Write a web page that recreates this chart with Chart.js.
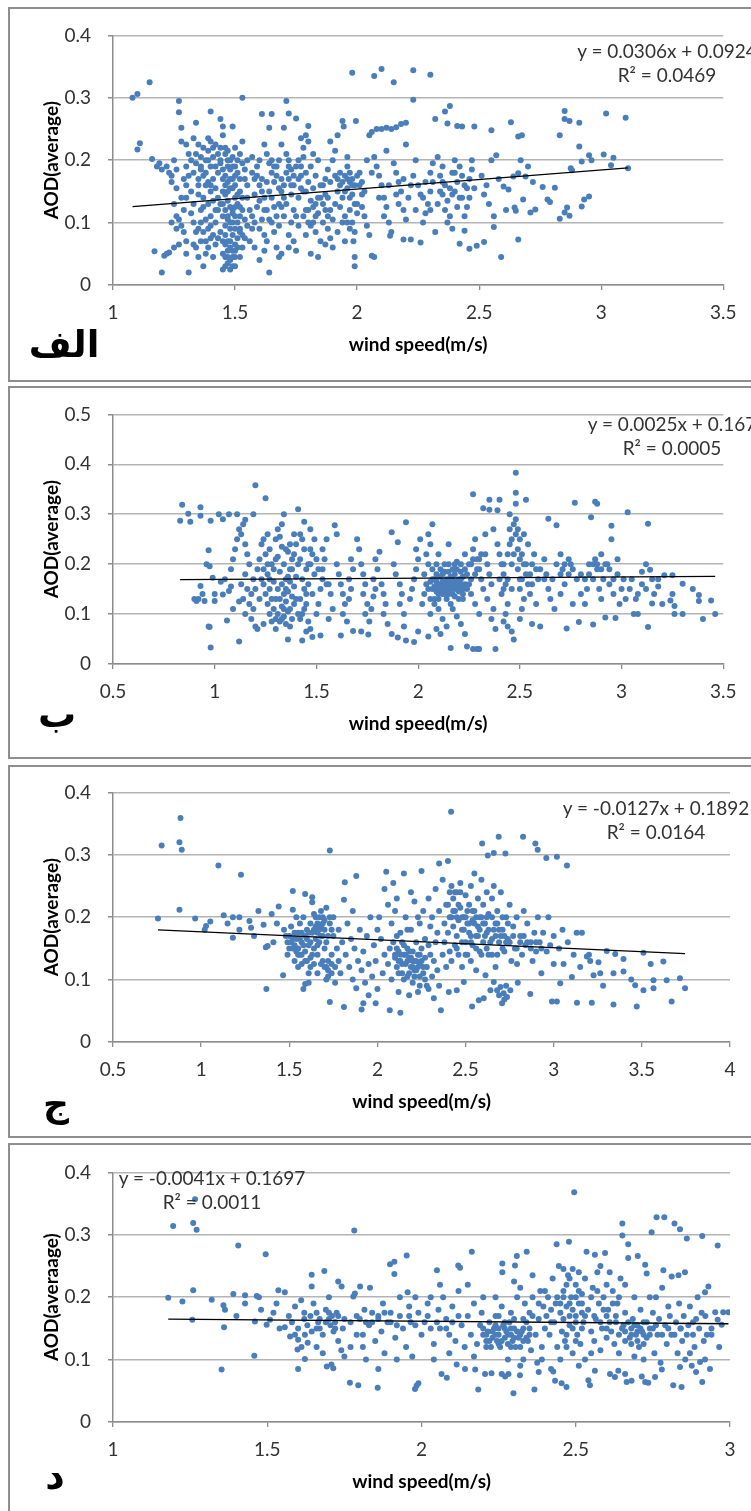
<!DOCTYPE html>
<html><head><meta charset="utf-8">
<script src="https://cdn.jsdelivr.net/npm/chart.js@4.4.1/dist/chart.umd.min.js"></script>
<style>
html,body{margin:0;padding:0;background:#fff;width:751px;height:1511px;overflow:hidden;position:relative;font-family:Lato,'Open Sans',sans-serif}
.box{position:absolute;left:8px;width:800px;border:2px solid #8e8e8e;box-sizing:border-box}
canvas{position:absolute;left:0;top:0}
.eq{position:absolute;font-family:Lato,'Open Sans',sans-serif;font-size:19px;color:#333;text-align:center;line-height:24px;white-space:nowrap;transform:translateX(-50%)}
.ar{position:absolute;font-family:'DejaVu Sans',sans-serif;font-weight:bold;color:#000;transform:translate(-50%,-50%);direction:rtl;white-space:nowrap;line-height:1}
</style></head><body>
<div class="box" style="top:7px;height:375px"></div>
<div class="box" style="top:386px;height:373px"></div>
<div class="box" style="top:765px;height:373px"></div>
<div class="box" style="top:1143px;height:400px"></div>
<canvas id="c0" width="751" height="372" style="top:7px"></canvas>
<canvas id="c1" width="751" height="372" style="top:386px"></canvas>
<canvas id="c2" width="751" height="372" style="top:764px"></canvas>
<canvas id="c3" width="751" height="372" style="top:1144px"></canvas>
<div class="eq" style="left:667px;top:39px">y = 0.0306x + 0.0924<br>R² = 0.0469</div>
<div class="eq" style="left:672px;top:412px">y = 0.0025x + 0.167<br>R² = 0.0005</div>
<div class="eq" style="left:656px;top:796px">y = -0.0127x + 0.1892<br>R² = 0.0164</div>
<div class="eq" style="left:212px;top:1166px">y = -0.0041x + 0.1697<br>R² = 0.0011</div>
<div class="ar" style="left:64px;top:344px;font-size:37px">الف</div>
<div class="ar" style="left:57px;top:714px;font-size:38px">ب</div>
<div class="ar" style="left:56px;top:1104px;font-size:36px">ج</div>
<div class="ar" style="left:55px;top:1476px;font-size:38px">د</div>
<script>
// wind speed (m/s) vs AOD(average), panels الف, ب, ج, د  — [wind speed, AOD]
const seriesA = [[1.08,.300],[1.10,.306],[1.15,.325],[1.10,.217],[1.11,.227],[1.16,.202],[1.17,.054],[1.21,.047],[1.22,.050],[1.23,.052],[1.20,.020],[1.19,.195],[1.18,.19],[1.2,.185],
[1.22,.19],[1.23,.18],[1.24,.175],[1.25,.20],[1.26,.185],[1.24,.165],[1.27,.295],[1.27,.277],[1.28,.252],[1.25,.13],[1.26,.11],[1.27,.105],[1.28,.095],[1.26,.09],[1.29,.12],[1.28,.14],[1.3,.16],[1.29,.17],[1.25,.06],[1.27,.065],[1.3,.07],[1.29,.085],[1.31,.02],[1.3,.19],[1.31,.21],[1.28,.23],[1.3,.225],[1.26,.155],[1.24,.10],[1.3,.05],
[1.32,.15],[1.33,.13],[1.34,.26],[1.32,.115],[1.33,.10],[1.34,.085],[1.35,.09],[1.33,.065],[1.35,.045],[1.37,.03],[1.38,.05],[1.36,.12],[1.37,.14],[1.38,.16],[1.35,.17],[1.36,.185],[1.38,.2],[1.39,.215],[1.37,.22],[1.4,.23],[1.4,.278],[1.39,.235],[1.36,.205],[1.34,.195],[1.33,.18],[1.35,.145],[1.38,.105],[1.39,.09],[1.4,.075],[1.4,.11],[1.39,.13],[1.4,.15],[1.41,.17],[1.4,.19],[1.41,.205],[1.42,.225],[1.36,.07],[1.34,.06],[1.39,.06],[1.41,.045],[1.37,.175],[1.35,.225],[1.33,.235],[1.39,.165],[1.42,.1],
[1.43,.12],[1.44,.13],[1.44,.266],[1.45,.254],[1.45,.24],[1.46,.22],[1.46,.21],[1.47,.2],[1.47,.19],[1.48,.185],[1.46,.175],[1.47,.165],[1.48,.155],[1.46,.145],[1.47,.135],[1.48,.125],[1.49,.115],[1.47,.105],[1.46,.095],[1.48,.09],[1.49,.08],[1.47,.07],[1.46,.065],[1.48,.06],[1.47,.055],[1.45,.05],[1.46,.045],[1.48,.04],[1.47,.035],[1.49,.03],[1.46,.03],[1.45,.025],[1.48,.025],[1.5,.03],[1.5,.045],[1.49,.055],[1.5,.065],[1.51,.075],[1.5,.09],[1.51,.1],[1.5,.11],[1.49,.12],[1.51,.13],[1.5,.14],[1.52,.15],[1.5,.16],[1.49,.17],[1.51,.18],[1.5,.19],[1.49,.205],[1.52,.21],[1.5,.22],[1.49,.254],[1.53,.30],[1.43,.18],[1.44,.195],[1.43,.21],[1.44,.22],[1.42,.155],[1.43,.14],[1.44,.085],[1.43,.075],[1.45,.11],[1.45,.15],[1.45,.17],[1.53,.195],[1.53,.12],[1.54,.105],[1.52,.085],[1.53,.06],[1.54,.17],[1.52,.09],[1.53,.23],[1.54,.185],[1.55,.14],[1.55,.095],[1.54,.075],[1.52,.045],[1.55,.2],[1.55,.16],
[1.56,.12],[1.57,.11],[1.58,.1],[1.57,.09],[1.58,.17],[1.59,.19],[1.6,.2],[1.57,.205],[1.59,.175],[1.6,.16],[1.61,.15],[1.6,.135],[1.62,.12],[1.61,.105],[1.6,.09],[1.62,.08],[1.63,.07],[1.6,.04],[1.61,.274],[1.65,.274],[1.64,.252],[1.64,.02],[1.62,.225],[1.63,.21],[1.64,.195],[1.65,.18],[1.66,.165],[1.64,.15],[1.65,.14],[1.66,.125],[1.67,.11],[1.65,.1],[1.66,.085],[1.67,.06],[1.68,.045],[1.69,.05],[1.67,.19],[1.68,.2],[1.69,.17],[1.68,.155],[1.7,.14],[1.69,.125],[1.7,.11],[1.68,.095],[1.7,.252],[1.69,.225],[1.58,.06],[1.56,.07],[1.63,.165],[1.62,.055],
[1.71,.295],[1.72,.275],[1.75,.267],[1.71,.21],[1.72,.2],[1.73,.185],[1.72,.17],[1.74,.16],[1.73,.145],[1.71,.13],[1.74,.12],[1.73,.1],[1.72,.08],[1.74,.07],[1.72,.06],[1.75,.055],[1.76,.14],[1.76,.17],[1.77,.19],[1.78,.22],[1.77,.235],[1.79,.24],[1.8,.23],[1.78,.205],[1.79,.18],[1.8,.165],[1.79,.15],[1.81,.135],[1.8,.12],[1.78,.11],[1.81,.095],[1.79,.08],[1.82,.21],[1.81,.19],[1.83,.175],[1.82,.155],[1.84,.14],[1.83,.13],[1.84,.115],[1.82,.1],[1.83,.085],[1.81,.05],[1.84,.045],[1.85,.07],[1.85,.16],[1.84,.2],[1.76,.095],[1.75,.11],[1.77,.155],[1.8,.255],
[1.86,.13],[1.87,.12],[1.88,.11],[1.87,.145],[1.86,.1],[1.88,.09],[1.89,.075],[1.87,.065],[1.9,.06],[1.89,.165],[1.88,.185],[1.9,.2],[1.91,.215],[1.89,.23],[1.92,.24],[1.91,.175],[1.93,.16],[1.92,.15],[1.94,.14],[1.93,.125],[1.95,.11],[1.94,.1],[1.92,.085],[1.95,.07],[1.94,.263],[1.945,.254],[1.96,.19],[1.95,.175],[1.97,.165],[1.96,.155],[1.98,.17],[1.97,.18],[1.99,.16],[1.98,.145],[1.99,.13],[1.97,.12],[2.0,.115],[1.98,.1],[1.99,.085],[1.985,.07],[1.99,.045],[1.99,.03],[1.995,.263],[1.98,.34],[1.96,.205],
[2.01,.18],[2.02,.165],[2.03,.15],[2.02,.125],[2.03,.11],[2.04,.095],[2.05,.08],[2.06,.047],[2.07,.045],[2.05,.24],[2.06,.245],[2.08,.25],[2.1,.25],[2.12,.252],[2.14,.25],[2.16,.253],[2.18,.258],[2.2,.26],[2.07,.335],[2.1,.346],[2.15,.325],[2.07,.205],[2.08,.19],[2.09,.175],[2.1,.16],[2.11,.14],[2.12,.125],[2.11,.11],[2.13,.1],[2.14,.085],[2.135,.079],[2.15,.195],[2.16,.18],[2.17,.165],[2.18,.15],[2.17,.13],[2.19,.12],[2.2,.105],[2.19,.073],[2.21,.14],[2.22,.16],[2.23,.175],[2.22,.073],[2.24,.12],[2.23,.297],[2.23,.344],[2.24,.2],[2.04,.2],[2.12,.215],[2.2,.225],
[2.26,.068],[2.27,.1],[2.28,.115],[2.29,.13],[2.26,.145],[2.28,.165],[2.3,.337],[2.32,.266],[2.36,.278],[2.38,.287],[2.37,.259],[2.41,.255],[2.43,.254],[2.3,.18],[2.31,.195],[2.33,.205],[2.35,.19],[2.34,.175],[2.36,.16],[2.35,.145],[2.37,.135],[2.36,.12],[2.38,.11],[2.37,.1],[2.39,.09],[2.4,.15],[2.41,.165],[2.39,.18],[2.42,.19],[2.4,.2],[2.43,.175],[2.44,.16],[2.42,.14],[2.45,.125],[2.44,.11],[2.42,.066],[2.44,.087],[2.46,.058],[2.49,.063],[2.46,.17],[2.47,.185],[2.48,.254],[2.48,.155],[2.32,.085],[2.3,.15],
[2.52,.069],[2.51,.175],[2.53,.16],[2.52,.145],[2.55,.248],[2.57,.208],[2.56,.11],[2.56,.093],[2.54,.13],[2.58,.17],[2.6,.158],[2.62,.153],[2.64,.174],[2.66,.179],[2.69,.174],[2.59,.045],[2.63,.261],[2.66,.238],[2.675,.24],[2.645,.124],[2.65,.119],[2.68,.137],[2.66,.073],[2.71,.116],[2.73,.121],[2.7,.19],[2.72,.165],[2.61,.12],[2.55,.2],[2.67,.2],
[2.76,.157],[2.81,.156],[2.78,.137],[2.79,.133],[2.83,.24],[2.85,.279],[2.85,.266],[2.87,.263],[2.91,.26],[2.83,.106],[2.85,.116],[2.86,.124],[2.87,.111],[2.88,.184],[2.875,.187],[2.92,.198],[2.91,.222],[2.95,.208],[2.96,.2],[2.95,.142],[2.93,.137],[2.92,.126],[3.02,.275],[3.01,.209],[3.05,.204],[3.04,.192],[3.11,.187],[3.1,.268],
[1.44,.2],[1.45,.185],[1.46,.16],[1.47,.15],[1.45,.13],[1.46,.12],[1.47,.11],[1.48,.1],[1.46,.08],[1.45,.07],[1.48,.07],[1.47,.045],[1.49,.045],[1.5,.055],[1.51,.06],[1.49,.1],[1.5,.125],[1.51,.145],[1.49,.155],[1.48,.17],[1.5,.175],[1.49,.19],[1.48,.2],[1.47,.215],[1.51,.2],[1.52,.17],[1.52,.125],[1.52,.11],[1.53,.14],[1.53,.08],
[1.38,.18],[1.39,.2],[1.41,.22],[1.42,.19],[1.4,.16],[1.41,.135],[1.42,.12],[1.4,.095],[1.41,.08],[1.42,.065],[1.38,.07],[1.37,.085],[1.36,.1],[1.37,.125],[1.35,.16],[1.36,.19],[1.34,.21],[1.32,.2],[1.31,.175],[1.3,.14],
[1.57,.18],[1.58,.145],[1.59,.125],[1.61,.17],[1.62,.14],[1.63,.12],[1.64,.105],[1.65,.2],[1.66,.19],[1.67,.175],[1.68,.13],[1.69,.15],[1.7,.16],[1.71,.18],[1.72,.19],[1.73,.16],[1.74,.175],[1.75,.19],[1.76,.2],[1.77,.175],[1.78,.15],[1.79,.12],[1.8,.1],[1.82,.125],[1.83,.11],[1.85,.14],[1.86,.16],[1.87,.17],[1.88,.14],[1.89,.12],[1.9,.105],[1.91,.13],[1.92,.17],[1.93,.18],[1.94,.165],[1.95,.15],[1.96,.17],[1.97,.14],[1.98,.16],[2.0,.175],[2.01,.16],[2.02,.145],[2.0,.13],[1.96,.1],[1.97,.09],
[2.06,.18],[2.09,.14],[2.13,.16],[2.16,.145],[2.19,.17],[2.25,.16],[2.27,.14],[2.3,.12],[2.33,.13],[2.35,.165],[2.38,.155],[2.39,.145],[2.41,.125],[2.43,.14],[2.45,.155],[2.46,.14],[2.47,.2],[2.4,.18],[2.34,.15],[2.31,.165]];

const seriesB = [[0.84,.319],[0.83,.287],[0.87,.301],[0.88,.285],[0.93,.314],[0.93,.297],[0.98,.287],[0.97,.228],[0.975,.196],[0.93,.156],[0.91,.126],[0.95,.126],[0.975,.074],[0.98,.033],[0.97,.075],[0.92,.13],[0.99,.173],[0.96,.20],[0.94,.14],[0.9,.13],
[1.0,.14],[1.0,.126],[1.02,.30],[1.04,.29],[1.07,.30],[1.11,.30],[1.15,.289],[1.19,.30],[1.06,.087],[1.04,.139],[1.07,.146],[1.12,.045],[1.05,.17],[1.08,.19],[1.09,.21],[1.1,.23],[1.11,.25],[1.12,.27],[1.14,.28],[1.13,.26],[1.15,.24],[1.16,.22],[1.17,.2],[1.15,.18],[1.13,.16],[1.16,.15],[1.18,.14],[1.14,.13],[1.17,.12],[1.19,.11],[1.15,.1],[1.18,.09],[1.2,.075],[1.21,.07],[1.09,.11],[1.12,.125],[1.03,.165],[1.08,.155],[1.19,.17],[1.2,.358],
[1.21,.19],[1.22,.21],[1.23,.24],[1.25,.332],[1.24,.25],[1.26,.26],[1.27,.23],[1.25,.22],[1.28,.2],[1.26,.18],[1.24,.16],[1.27,.15],[1.25,.14],[1.28,.13],[1.26,.12],[1.29,.11],[1.27,.1],[1.3,.09],[1.28,.085],[1.24,.08],[1.3,.25],[1.31,.27],[1.33,.28],[1.34,.3],[1.32,.255],[1.33,.235],[1.31,.215],[1.34,.2],[1.32,.185],[1.35,.17],[1.33,.16],[1.31,.15],[1.34,.14],[1.32,.13],[1.35,.125],[1.33,.115],[1.36,.105],[1.34,.095],[1.32,.085],[1.35,.08],[1.37,.075],[1.36,.049],[1.38,.09],[1.37,.11],[1.39,.12],[1.38,.135],[1.36,.145],[1.39,.155],[1.37,.165],[1.4,.175],[1.38,.19],[1.41,.2],[1.39,.22],[1.4,.24],[1.41,.31],[1.42,.26],[1.43,.25],[1.44,.23],[1.42,.21],[1.45,.19],[1.43,.17],[1.46,.16],[1.44,.15],[1.42,.13],[1.45,.12],[1.43,.1],[1.46,.085],[1.43,.047],[1.47,.07],[1.48,.054],[1.45,.065],[1.47,.2],[1.48,.22],[1.49,.18],[1.47,.27],[1.48,.14],[1.3,.07],[1.29,.165],[1.36,.225],[1.44,.285],
[1.52,.057],[1.5,.1],[1.51,.12],[1.52,.15],[1.53,.17],[1.51,.19],[1.54,.21],[1.53,.23],[1.55,.25],[1.56,.16],[1.57,.14],[1.58,.11],[1.56,.09],[1.59,.278],[1.6,.26],[1.61,.18],[1.6,.2],[1.62,.057],[1.62,.16],[1.63,.14],[1.64,.12],[1.63,.1],[1.65,.085],[1.66,.13],[1.67,.15],[1.66,.17],[1.68,.19],[1.67,.21],[1.68,.066],[1.7,.25],[1.71,.23],[1.72,.065],[1.72,.2],[1.73,.18],[1.74,.16],[1.73,.14],[1.75,.12],[1.74,.1],[1.755,.059],[1.76,.085],[1.77,.11],[1.78,.135],[1.79,.15],[1.78,.17],[1.8,.19],[1.79,.21],[1.81,.225],[1.82,.16],[1.83,.14],[1.84,.12],[1.83,.1],[1.85,.08],[1.87,.264],[1.87,.06],[1.88,.2],[1.9,.244],[1.89,.18],[1.9,.053],[1.91,.16],[1.92,.14],[1.91,.12],[1.93,.1],[1.94,.284],[1.94,.047],[1.93,.075],
[1.98,.044],[1.96,.13],[1.97,.15],[1.98,.17],[1.99,.19],[2.0,.21],[1.99,.23],[2.01,.25],[2.02,.12],[2.03,.14],[2.04,.16],[2.03,.18],[2.05,.2],[2.04,.22],[2.06,.24],[2.05,.26],[2.07,.28],[2.06,.1],[2.08,.13],[2.07,.15],[2.09,.165],[2.08,.17],[2.1,.155],[2.09,.145],[2.11,.16],[2.1,.175],[2.12,.165],[2.11,.15],[2.13,.14],[2.12,.18],[2.14,.17],[2.13,.155],[2.15,.16],[2.14,.145],[2.16,.175],[2.15,.185],[2.17,.16],[2.16,.15],[2.18,.165],[2.17,.14],[2.19,.155],[2.18,.18],[2.2,.17],[2.19,.19],[2.21,.16],[2.2,.145],[2.22,.175],[2.21,.2],[2.23,.22],[2.22,.13],[2.1,.11],[2.12,.09],[2.14,.075],[2.16,.032],[2.11,.06],[2.09,.07],[2.17,.11],[2.19,.095],[2.21,.08],[2.23,.06],[2.24,.035],[2.24,.18],[2.25,.16],[2.26,.2],[2.27,.34],[2.27,.23],[2.26,.14],[2.28,.12],[2.27,.03],[2.29,.03],[2.28,.25],[2.3,.03],[2.3,.21],[2.29,.19],[2.1,.22],[2.15,.24],[2.05,.055],[2.0,.065],[2.13,.2],[2.18,.2],
[2.32,.312],[2.35,.309],[2.39,.308],[2.35,.329],[2.4,.329],[2.31,.17],[2.32,.15],[2.33,.22],[2.34,.2],[2.35,.18],[2.36,.16],[2.34,.13],[2.37,.11],[2.36,.09],[2.38,.03],[2.38,.07],[2.39,.24],[2.4,.22],[2.41,.2],[2.42,.18],[2.43,.16],[2.41,.14],[2.44,.12],[2.43,.1],[2.45,.27],[2.46,.25],[2.47,.28],[2.48,.29],[2.48,.343],[2.48,.321],[2.48,.383],[2.47,.049],[2.49,.23],[2.5,.21],[2.49,.19],[2.51,.17],[2.5,.15],[2.52,.13],[2.51,.11],[2.5,.09],[2.53,.329],[2.52,.26],[2.54,.24],[2.53,.2],[2.55,.18],[2.56,.16],[2.55,.14],[2.56,.08],[2.57,.22],[2.58,.19],[2.59,.17],[2.58,.12],[2.6,.075],[2.44,.075],[2.46,.065],[2.42,.085],[2.3,.1],[2.33,.26],[2.37,.27],[2.45,.3],
[2.64,.291],[2.68,.278],[2.62,.21],[2.63,.18],[2.64,.15],[2.65,.13],[2.66,.17],[2.68,.2],[2.7,.22],[2.71,.19],[2.72,.16],[2.73,.071],[2.74,.18],[2.75,.2],[2.77,.323],[2.78,.17],[2.79,.084],[2.8,.14],[2.82,.12],[2.84,.2],[2.85,.294],[2.86,.079],[2.87,.325],[2.88,.321],[2.87,.21],[2.88,.19],[2.86,.17],[2.89,.15],[2.9,.13],[2.91,.17],[2.92,.093],[2.93,.2],[2.95,.277],[2.95,.25],[2.94,.16],[2.96,.14],[2.97,.092],[2.98,.18],[2.99,.12],[2.67,.11],[2.7,.14],[2.76,.12],[2.83,.15],[2.9,.22],[2.98,.21],
[3.03,.304],[3.06,.1],[3.08,.1],[3.01,.17],[3.04,.15],[3.07,.13],[3.1,.16],[3.12,.2],[3.13,.281],[3.13,.074],[3.15,.121],[3.14,.189],[3.16,.14],[3.18,.17],[3.21,.178],[3.25,.178],[3.25,.14],[3.24,.127],[3.26,.116],[3.26,.1],[3.3,.1],[3.3,.161],[3.38,.138],[3.38,.126],[3.4,.09],[3.44,.127],[3.46,.1],[3.2,.12],[3.35,.15],[3.1,.185],
[2.05,.15],[2.06,.165],[2.07,.17],[2.08,.155],[2.09,.18],[2.1,.14],[2.11,.175],[2.12,.15],[2.13,.165],[2.14,.155],[2.15,.14],[2.16,.165],[2.17,.17],[2.18,.15],[2.19,.165],[2.2,.155],[2.21,.17],[2.22,.15],[2.23,.16],[2.24,.15],[2.06,.13],[2.08,.12],[2.1,.13],[2.12,.14],[2.14,.13],[2.16,.12],[2.18,.135],[2.2,.13],[2.22,.14],[2.07,.19],[2.09,.2],[2.11,.19],[2.13,.185],[2.15,.2],[2.17,.19],[2.19,.205],[2.21,.185],[2.23,.19],[2.25,.2],[2.26,.17],[2.28,.18],[2.3,.19],[2.31,.22],[2.29,.21],[2.27,.21],
[1.2,.15],[1.22,.13],[1.23,.17],[1.24,.19],[1.26,.2],[1.27,.17],[1.29,.19],[1.3,.21],[1.3,.13],[1.31,.1],[1.33,.09],[1.34,.11],[1.35,.15],[1.36,.175],[1.37,.19],[1.38,.21],[1.35,.23],[1.37,.24],[1.39,.26],[1.4,.13],[1.41,.1],[1.42,.09],[1.44,.11],[1.45,.14],[1.46,.2],[1.47,.23],[1.49,.25],[1.5,.21],[1.53,.19],[1.55,.16],
[2.4,.17],[2.42,.2],[2.44,.22],[2.45,.24],[2.46,.2],[2.47,.22],[2.48,.26],[2.49,.27],[2.5,.25],[2.51,.22],[2.52,.2],[2.53,.18],[2.54,.16],[2.46,.15],[2.44,.17],[2.42,.15],[2.5,.17],[2.56,.2],[2.6,.19],[2.62,.17],
[2.7,.18],[2.72,.2],[2.74,.21],[2.76,.19],[2.8,.18],[2.82,.17],[2.84,.18],[2.86,.2],[2.88,.2],[2.9,.19],[2.92,.2],[2.94,.19],[2.96,.17],[3.0,.15],[3.02,.13],[3.05,.17],[3.08,.14],[3.12,.15],[3.15,.17],[3.18,.155]];

const seriesC = [[0.755,.198],[0.776,.315],[0.883,.359],[0.877,.32],[0.89,.308],[0.877,.212],[0.966,.198],[1.028,.186],[1.052,.193],[1.098,.283],[1.226,.268],[1.128,.203],[1.18,.2],[1.217,.2],[1.18,.167],[1.217,.18],[1.274,.194],[1.283,.183],[1.325,.21],[1.354,.188],[1.367,.152],[1.377,.154],[1.4,.205],[1.37,.085],[1.44,.217],[1.3,.17],[1.02,.18],[1.15,.19],[1.41,.16],[1.43,.19],
[1.465,.107],[1.47,.18],[1.48,.17],[1.49,.16],[1.5,.15],[1.49,.14],[1.51,.185],[1.52,.242],[1.52,.212],[1.52,.165],[1.53,.155],[1.54,.145],[1.53,.13],[1.55,.175],[1.55,.12],[1.56,.19],[1.57,.16],[1.56,.14],[1.58,.085],[1.59,.093],[1.59,.237],[1.58,.2],[1.6,.18],[1.59,.17],[1.61,.155],[1.6,.13],[1.62,.12],[1.61,.11],[1.63,.232],[1.63,.224],[1.62,.19],[1.64,.205],[1.63,.175],[1.65,.165],[1.64,.15],[1.66,.14],[1.65,.185],[1.67,.2],[1.66,.175],[1.68,.21],[1.67,.16],[1.69,.19],[1.68,.17],[1.7,.18],[1.69,.2],[1.71,.215],[1.7,.15],[1.72,.13],[1.71,.12],[1.73,.307],[1.73,.064],[1.72,.105],[1.74,.11],[1.73,.19],[1.75,.17],[1.74,.14],[1.76,.12],[1.75,.2],[1.77,.15],[1.78,.13],[1.76,.095],[1.79,.11],[1.78,.18],[1.8,.16],[1.57,.125],[1.54,.2],[1.61,.095],[1.66,.11],[1.69,.13],[1.71,.1],
[1.81,.056],[1.815,.256],[1.81,.228],[1.82,.14],[1.83,.19],[1.84,.12],[1.85,.165],[1.86,.1],[1.87,.15],[1.88,.266],[1.88,.086],[1.89,.13],[1.9,.18],[1.91,.052],[1.92,.062],[1.91,.115],[1.92,.145],[1.93,.095],[1.94,.17],[1.95,.125],[1.96,.2],[1.97,.105],[1.98,.155],[1.99,.062],[1.99,.13],[2.0,.085],[2.01,.2],[2.02,.165],[2.03,.11],[2.04,.245],[2.04,.14],[2.05,.273],[1.86,.21],[1.95,.075],[2.0,.18],
[2.06,.22],[2.07,.051],[2.06,.125],[2.07,.15],[2.08,.19],[2.09,.255],[2.08,.1],[2.1,.135],[2.1,.21],[2.11,.12],[2.11,.17],[2.12,.145],[2.12,.08],[2.13,.047],[2.13,.13],[2.14,.11],[2.14,.16],[2.15,.27],[2.15,.14],[2.16,.125],[2.16,.2],[2.17,.15],[2.17,.105],[2.18,.135],[2.18,.075],[2.19,.12],[2.19,.18],[2.2,.145],[2.2,.095],[2.21,.13],[2.21,.225],[2.22,.115],[2.22,.16],[2.23,.14],[2.23,.08],[2.24,.125],[2.24,.19],[2.25,.274],[2.25,.15],[2.26,.11],[2.26,.21],[2.27,.135],[2.27,.165],[2.28,.12],[2.28,.09],[2.29,.155],[2.29,.23],[2.3,.14],[2.3,.185],[2.31,.105],[2.31,.2],[2.32,.13],[2.32,.07],[2.33,.16],[2.33,.245],[2.34,.115],[2.34,.175],[2.35,.286],[2.35,.21],[2.35,.09],[2.09,.16],[2.13,.175],[2.17,.18],[2.2,.12],[2.24,.105],[2.27,.1],[2.11,.23],[2.19,.24],[2.23,.2],[2.29,.085],
[2.36,.051],[2.37,.14],[2.37,.26],[2.38,.19],[2.38,.16],[2.39,.22],[2.39,.12],[2.4,.29],[2.4,.175],[2.405,.08],[2.41,.2],[2.41,.145],[2.418,.369],[2.42,.25],[2.42,.13],[2.43,.23],[2.43,.185],[2.44,.21],[2.44,.155],[2.45,.24],[2.45,.17],[2.45,.083],[2.46,.195],[2.46,.14],[2.47,.255],[2.47,.215],[2.48,.18],[2.48,.12],[2.49,.096],[2.49,.2],[2.5,.235],[2.5,.16],[2.51,.19],[2.51,.14],[2.52,.22],[2.52,.175],[2.53,.25],[2.53,.13],[2.54,.195],[2.54,.155],[2.537,.057],[2.55,.27],[2.55,.21],[2.56,.17],[2.56,.115],[2.57,.23],[2.57,.185],[2.575,.067],[2.58,.2],[2.58,.145],[2.59,.26],[2.594,.318],[2.6,.22],[2.6,.16],[2.603,.07],[2.61,.19],[2.613,.107],[2.62,.24],[2.62,.175],[2.626,.299],[2.63,.205],[2.63,.14],[2.641,.083],[2.65,.23],[2.65,.165],[2.66,.303],[2.66,.096],[2.66,.25],[2.67,.19],[2.67,.12],[2.679,.083],[2.68,.21],[2.688,.329],[2.69,.16],[2.698,.088],[2.7,.24],[2.707,.062],[2.71,.18],[2.716,.078],[2.72,.145],[2.726,.302],[2.73,.2],[2.735,.072],[2.74,.165],[2.754,.083],[2.75,.22],[2.76,.13],[2.77,.185],[2.78,.15],[2.79,.2],[2.792,.125],[2.796,.095],[2.72,.068],[2.69,.075],[2.73,.09],
[2.81,.17],[2.82,.14],[2.826,.329],[2.83,.21],[2.84,.155],[2.85,.19],[2.867,.077],[2.87,.16],[2.88,.13],[2.89,.175],[2.896,.318],[2.9,.145],[2.909,.308],[2.91,.2],[2.92,.16],[2.93,.11],[2.94,.175],[2.958,.295],[2.96,.145],[2.97,.2],[2.98,.155],[2.99,.065],[3.0,.125],[3.0,.17],[3.018,.297],[3.018,.065],[3.03,.15],[3.037,.094],[3.05,.18],[3.056,.125],[3.075,.283],[3.08,.16],[3.103,.104],[3.113,.14],[3.13,.175],
[3.132,.063],[3.15,.12],[3.188,.137],[3.207,.13],[3.216,.063],[3.226,.107],[3.254,.128],[3.264,.11],[3.301,.146],[3.339,.11],[3.339,.06],[3.349,.141],[3.396,.133],[3.396,.113],[3.462,.091],[3.471,.057],[3.509,.143],[3.509,.083],[3.566,.086],[3.566,.099],[3.622,.129],[3.641,.099],[3.669,.065],[3.716,.102],[3.745,.086],[3.16,.175],[3.2,.14],[3.28,.09],[3.44,.1],[3.55,.125],
[1.5,.17],[1.51,.16],[1.52,.15],[1.53,.175],[1.54,.165],[1.55,.15],[1.56,.165],[1.57,.175],[1.58,.155],[1.59,.145],[1.6,.165],[1.61,.175],[1.62,.16],[1.63,.14],[1.64,.18],[1.65,.2],[1.66,.19],[1.67,.18],[1.68,.185],[1.69,.17],[1.7,.195],[1.71,.16],[1.72,.17],[1.73,.2],[1.74,.18],[1.55,.14],[1.57,.14],[1.59,.13],[1.62,.135],[1.64,.125],[1.66,.155],[1.68,.125],[1.7,.12],[1.72,.115],[1.74,.125],
[2.1,.14],[2.11,.15],[2.12,.13],[2.13,.14],[2.14,.125],[2.15,.155],[2.16,.14],[2.17,.13],[2.18,.145],[2.19,.135],[2.2,.13],[2.21,.115],[2.22,.13],[2.23,.12],[2.24,.14],[2.25,.13],[2.26,.12],[2.12,.11],[2.15,.1],[2.18,.11],[2.21,.105],[2.24,.09],
[2.4,.22],[2.41,.24],[2.42,.2],[2.43,.21],[2.44,.24],[2.45,.2],[2.46,.22],[2.47,.24],[2.48,.2],[2.49,.18],[2.5,.2],[2.51,.21],[2.52,.19],[2.53,.17],[2.54,.21],[2.55,.19],[2.56,.2],[2.57,.17],[2.58,.18],[2.59,.2],[2.6,.19],[2.61,.17],[2.62,.2],[2.63,.18],[2.64,.16],[2.65,.2],[2.66,.18],[2.67,.17],[2.68,.19],[2.69,.18],[2.7,.17],[2.71,.2],[2.72,.17],[2.73,.16],[2.74,.19],[2.45,.15],[2.48,.16],[2.5,.14],[2.53,.16],[2.56,.15],[2.59,.14],[2.62,.15],[2.65,.14],[2.68,.14],[2.71,.15],[2.75,.16],[2.77,.17],[2.79,.15],[2.81,.16],[2.83,.17],[2.85,.16],[2.87,.15],[2.9,.16],[2.93,.15]];

const seriesD = [[1.179,.199],[1.195,.314],[1.225,.193],[1.257,.164],[1.26,.211],[1.26,.319],[1.271,.308],[1.266,.357],[1.32,.196],[1.358,.187],[1.363,.18],[1.36,.152],[1.352,.084],[1.406,.283],[1.39,.205],[1.428,.203],[1.428,.19],[1.466,.202],[1.473,.2],[1.46,.161],[1.458,.106],[1.495,.269],[1.498,.156],[1.509,.164],[1.536,.211],[1.52,.175],[1.54,.15],[1.48,.18],[1.4,.17],[1.53,.19],
[1.557,.208],[1.557,.152],[1.574,.137],[1.6,.132],[1.622,.14],[1.644,.145],[1.631,.127],[1.611,.12],[1.598,.116],[1.622,.101],[1.6,.085],[1.57,.17],[1.58,.16],[1.59,.185],[1.61,.195],[1.62,.165],[1.63,.155],[1.644,.236],[1.644,.217],[1.65,.19],[1.66,.175],[1.665,.16],[1.67,.15],[1.68,.14],[1.685,.242],[1.69,.18],[1.693,.089],[1.7,.165],[1.705,.155],[1.708,.092],[1.71,.17],[1.714,.086],[1.715,.145],[1.72,.16],[1.725,.175],[1.73,.225],[1.73,.13],[1.74,.115],[1.741,.217],[1.745,.15],[1.75,.105],[1.66,.12],[1.68,.11],[1.7,.2],[1.59,.14],
[1.768,.063],[1.779,.201],[1.782,.307],[1.784,.206],[1.79,.14],[1.795,.059],[1.8,.165],[1.801,.217],[1.81,.12],[1.815,.18],[1.82,.1],[1.83,.155],[1.833,.215],[1.84,.175],[1.85,.13],[1.858,.055],[1.86,.165],[1.87,.145],[1.875,.19],[1.88,.11],[1.89,.16],[1.898,.253],[1.9,.175],[1.912,.257],[1.912,.237],[1.915,.135],[1.92,.1],[1.93,.17],[1.94,.15],[1.95,.12],[1.952,.267],[1.955,.208],[1.96,.185],[1.965,.16],[1.97,.105],[1.979,.053],[1.984,.058],[1.99,.175],[1.99,.062],[2.0,.14],[1.77,.12],[1.81,.14],[1.86,.085],[1.93,.2],[1.98,.2],
[2.01,.16],[2.02,.19],[2.03,.2],[2.04,.125],[2.05,.243],[2.055,.18],[2.06,.15],[2.065,.077],[2.07,.2],[2.08,.165],[2.082,.071],[2.09,.14],[2.1,.185],[2.11,.13],[2.114,.092],[2.119,.251],[2.125,.247],[2.13,.155],[2.14,.12],[2.141,.085],[2.15,.17],[2.16,.14],[2.163,.273],[2.17,.19],[2.174,.084],[2.18,.125],[2.184,.052],[2.19,.155],[2.2,.14],[2.2,.2],[2.206,.077],[2.21,.13],[2.04,.1],[2.09,.11],[2.12,.21],[2.17,.105],[2.03,.15],[2.195,.175],[2.15,.22],[2.06,.22],
[2.215,.145],[2.22,.16],[2.225,.12],[2.227,.078],[2.23,.135],[2.235,.15],[2.24,.17],[2.245,.13],[2.25,.14],[2.255,.12],[2.26,.077],[2.262,.254],[2.262,.24],[2.265,.155],[2.27,.135],[2.271,.073],[2.275,.145],[2.28,.125],[2.282,.077],[2.285,.16],[2.29,.14],[2.295,.13],[2.298,.046],[2.3,.15],[2.303,.251],[2.305,.12],[2.309,.266],[2.31,.2],[2.315,.135],[2.319,.075],[2.32,.215],[2.325,.145],[2.33,.1],[2.335,.19],[2.34,.16],[2.341,.273],[2.345,.13],[2.35,.175],[2.355,.115],[2.36,.2],[2.366,.052],[2.37,.14],[2.375,.095],[2.38,.165],[2.385,.21],[2.39,.12],[2.395,.185],[2.4,.15],[2.24,.2],[2.26,.185],[2.28,.1],[2.3,.225],[2.32,.09],[2.36,.235],[2.38,.08],[2.25,.17],[2.29,.175],[2.33,.165],[2.35,.15],[2.39,.1],
[2.405,.17],[2.41,.2],[2.415,.14],[2.42,.085],[2.425,.23],[2.427,.081],[2.43,.16],[2.433,.066],[2.435,.19],[2.438,.285],[2.44,.12],[2.445,.25],[2.45,.175],[2.454,.062],[2.455,.145],[2.46,.21],[2.465,.13],[2.47,.056],[2.47,.185],[2.475,.235],[2.478,.289],[2.48,.155],[2.485,.2],[2.49,.11],[2.495,.368],[2.5,.17],[2.5,.22],[2.505,.14],[2.51,.19],[2.515,.125],[2.52,.205],[2.525,.16],[2.53,.1],[2.535,.273],[2.54,.18],[2.541,.067],[2.546,.059],[2.55,.145],[2.555,.215],[2.56,.13],[2.562,.268],[2.562,.082],[2.565,.165],[2.57,.24],[2.575,.19],[2.58,.115],[2.585,.15],[2.59,.2],[2.595,.271],[2.6,.17],[2.6,.135],[2.45,.1],[2.49,.245],[2.51,.09],[2.53,.23],[2.42,.16],[2.47,.12],[2.55,.11],[2.58,.25],[2.52,.175],
[2.605,.18],[2.611,.077],[2.615,.145],[2.62,.21],[2.625,.125],[2.627,.072],[2.63,.16],[2.635,.19],[2.638,.082],[2.64,.14],[2.645,.23],[2.651,.318],[2.651,.299],[2.655,.155],[2.66,.077],[2.66,.175],[2.665,.064],[2.67,.285],[2.67,.263],[2.675,.135],[2.68,.15],[2.681,.066],[2.685,.165],[2.69,.2],[2.695,.14],[2.7,.155],[2.701,.266],[2.705,.12],[2.71,.18],[2.714,.073],[2.715,.145],[2.72,.16],[2.725,.252],[2.725,.064],[2.73,.238],[2.73,.135],[2.735,.063],[2.74,.15],[2.746,.304],[2.75,.175],[2.755,.11],[2.757,.072],[2.76,.2],[2.762,.328],[2.765,.14],[2.77,.165],[2.775,.095],[2.779,.084],[2.78,.215],[2.784,.243],[2.787,.328],[2.79,.155],[2.795,.125],[2.8,.185],[2.69,.105],[2.72,.1],[2.66,.22],[2.74,.2],[2.61,.24],[2.64,.11],
[2.805,.17],[2.81,.14],[2.811,.233],[2.816,.059],[2.82,.318],[2.825,.16],[2.83,.11],[2.833,.235],[2.835,.19],[2.838,.309],[2.838,.088],[2.84,.15],[2.843,.056],[2.845,.13],[2.85,.17],[2.854,.24],[2.855,.1],[2.86,.294],[2.865,.155],[2.87,.185],[2.876,.09],[2.88,.14],[2.885,.12],[2.89,.165],[2.895,.2],[2.903,.096],[2.908,.175],[2.91,.298],[2.91,.064],[2.915,.13],[2.919,.208],[2.919,.1],[2.93,.217],[2.935,.085],[2.94,.15],[2.952,.176],[2.96,.283],[2.96,.164],[2.965,.12],[2.973,.156],[2.978,.176],[2.995,.176],[2.87,.11],[2.89,.08],[2.925,.14],
[2.2,.15],[2.21,.14],[2.22,.13],[2.23,.145],[2.24,.14],[2.25,.15],[2.26,.13],[2.27,.15],[2.28,.14],[2.29,.15],[2.3,.135],[2.31,.145],[2.32,.14],[2.33,.15],[2.34,.135],[2.35,.14],[2.24,.155],[2.27,.16],[2.3,.165],[2.33,.13],[2.21,.12],[2.25,.125],[2.29,.12],[2.32,.12],
[2.45,.19],[2.46,.2],[2.47,.22],[2.48,.19],[2.49,.18],[2.5,.2],[2.51,.21],[2.52,.19],[2.48,.17],[2.5,.16],[2.46,.165],[2.52,.15],[2.47,.14],[2.5,.13],[2.49,.15],[2.44,.2],[2.53,.17],[2.51,.24],[2.48,.23],[2.46,.245],
[2.65,.15],[2.66,.145],[2.67,.16],[2.68,.14],[2.69,.155],[2.7,.145],[2.71,.15],[2.72,.14],[2.73,.16],[2.74,.14],[2.7,.13],[2.68,.125],[2.72,.125],[2.66,.13],[2.75,.15],[2.76,.155],[2.78,.14],[2.8,.15],[2.82,.14],[2.84,.15],[2.86,.14],[2.88,.16],[2.9,.15],[2.92,.17],[2.94,.14],
[1.6,.15],[1.62,.175],[1.64,.17],[1.66,.15],[1.67,.165],[1.69,.16],[1.7,.175],[1.72,.15],[1.73,.17],[1.75,.165],[1.77,.16],[1.79,.17],[1.82,.16],[1.84,.16],[1.86,.17],[1.88,.175],[1.9,.16],[1.92,.155],[1.96,.17],[1.98,.155],[2.02,.17],[2.05,.16],[2.08,.15],[2.1,.16],[2.12,.17],
[2.36,.17],[2.38,.19],[2.4,.21],[2.42,.18],[2.55,.2],[2.57,.21],[2.59,.18],[2.6,.22],[2.62,.19],[2.64,.2],[2.56,.17],[2.58,.16],[2.61,.16],[2.63,.17],[2.6,.15]];

// axis ticks
const xTicksA = [1, 1.5, 2, 2.5, 3, 3.5];
const xTicksB = [0.5, 1, 1.5, 2, 2.5, 3, 3.5];
const xTicksC = [0.5, 1, 1.5, 2, 2.5, 3, 3.5, 4];
const xTicksD = [1, 1.5, 2, 2.5, 3];
const yTicksA = [0, 0.1, 0.2, 0.3, 0.4];
const yTicksB = [0, 0.1, 0.2, 0.3, 0.4, 0.5];
const yTicksC = [0, 0.1, 0.2, 0.3, 0.4];
const yTicksD = [0, 0.1, 0.2, 0.3, 0.4];

// linear trendlines (slope, intercept) as printed on each panel
const slopes = [0.0306, 0.0025, -0.0127, -0.0041];
const intercepts = [0.0924, 0.167, 0.1892, 0.1697];

const yTitles = ['AOD(average)', 'AOD(average)', 'AOD(average)', 'AOD(averaage)'];
const xTitle = 'wind speed(m/s)';

const FONT = "Lato, 'Open Sans', sans-serif";
const rightPads = [27.7, 27.7, 21, 21];

function makeChart(k, pts, xt, yt) {
  const xs = pts.map(p => p[0]);
  const x0 = Math.min(...xs), x1 = Math.max(...xs);
  new Chart(document.getElementById('c' + k), {
    type: 'scatter',
    data: {
      datasets: [
        {
          data: [{x: x0, y: slopes[k] * x0 + intercepts[k]}, {x: x1, y: slopes[k] * x1 + intercepts[k]}],
          showLine: true, pointRadius: 0, borderColor: '#000', borderWidth: 1.3, order: 0
        },
        {
          data: pts.map(p => ({x: p[0], y: p[1]})),
          backgroundColor: '#4a7ebb', borderColor: '#4a7ebb', borderWidth: 0, pointRadius: 3.0, order: 1
        }
      ]
    },
    options: {
      responsive: false, animation: false, devicePixelRatio: 1, events: [],
      layout: {padding: {left: 40.6, top: 25, right: rightPads[k], bottom: 22.6}},
      plugins: {legend: {display: false}, tooltip: {enabled: false}},
      scales: {
        x: {
          type: 'linear', min: xt[0], max: xt[xt.length - 1],
          afterFit: s => { s.height = 71.4; },
          ticks: {stepSize: 0.5, autoSkip: false, maxRotation: 0, padding: 11, color: '#333',
                  font: {family: FONT, size: 19}, callback: (v, i) => String(xt[i])},
          grid: {drawOnChartArea: false, drawTicks: true, tickLength: 5, color: '#8c8c8c', lineWidth: 1.3},
          border: {display: true, color: '#8c8c8c', width: 1.5},
          title: {display: true, text: xTitle, color: '#000', padding: 0,
                  font: {family: FONT, size: 19, weight: 'bold'}}
        },
        y: {
          type: 'linear', min: yt[0], max: yt[yt.length - 1],
          afterFit: s => { s.width = 72.4; },
          ticks: {stepSize: 0.1, autoSkip: false, padding: 17, color: '#333',
                  font: {family: FONT, size: 19}, callback: (v, i) => String(yt[i])},
          grid: {drawTicks: true, tickLength: 5, color: '#b4b4b4', lineWidth: 1.5, tickColor: '#8c8c8c'},
          border: {display: true, color: '#8c8c8c', width: 1.5},
          title: {display: true, text: yTitles[k], color: '#000', padding: 0,
                  font: {family: FONT, size: 19, weight: 'bold'}}
        }
      }
    }
  });
}

makeChart(0, seriesA, xTicksA, yTicksA);
makeChart(1, seriesB, xTicksB, yTicksB);
makeChart(2, seriesC, xTicksC, yTicksC);
makeChart(3, seriesD, xTicksD, yTicksD);
</script>
</body></html>
